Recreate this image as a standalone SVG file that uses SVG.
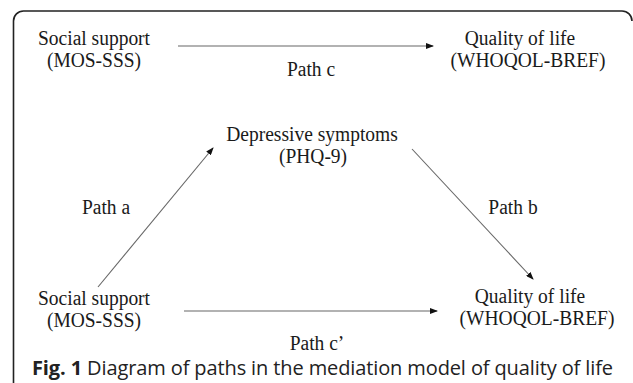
<svg xmlns="http://www.w3.org/2000/svg" width="633" height="383" viewBox="0 0 633 383">
<defs>
<marker id="ah" markerWidth="8" markerHeight="6" refX="7" refY="3" orient="auto" markerUnits="userSpaceOnUse">
<path d="M0,0 L8,3 L0,6 Z" fill="#111"/>
</marker>
<style>
.t{font-family:"Liberation Serif","Times New Roman",serif;font-size:19.5px;fill:#1a1a1a;text-anchor:middle}
.e{stroke:#666;stroke-width:1.1;fill:none;marker-end:url(#ah)}
.cap{font-family:"Open Sans","Noto Sans",sans-serif;font-size:20px;fill:#222}
</style>
</defs>
<rect width="633" height="383" fill="#fff"/>
<path d="M13.5,383 V21 A10,10 0 0 1 23.5,11 H622 A10,10 0 0 1 632,21" fill="none" stroke="#222" stroke-width="1.6"/>
<g id="connectors">
<line class="e" x1="178" y1="46" x2="433" y2="46"/>
<line class="e" x1="98" y1="287" x2="213" y2="148"/>
<line class="e" x1="412" y1="149" x2="533" y2="279"/>
<line class="e" x1="184" y1="311" x2="437" y2="311"/>
</g>
<g id="ss-top"><text class="t" transform="translate(94,45) scale(1,1.08)">Social support</text><text class="t" transform="translate(94,67) scale(1,1.08)">(MOS-SSS)</text></g>
<g id="qol-top"><text class="t" transform="translate(520,45) scale(1,1.08)">Quality of life</text><text class="t" transform="translate(528,67) scale(1,1.08)">(WHOQOL-BREF)</text></g>
<g id="dep"><text class="t" transform="translate(312,141) scale(1,1.08)">Depressive symptoms</text><text class="t" transform="translate(313,163) scale(1,1.08)">(PHQ-9)</text></g>
<g id="ss-bot"><text class="t" transform="translate(94,305) scale(1,1.08)">Social support</text><text class="t" transform="translate(94,327) scale(1,1.08)">(MOS-SSS)</text></g>
<g id="qol-bot"><text class="t" transform="translate(530,303) scale(1,1.08)">Quality of life</text><text class="t" transform="translate(537,325) scale(1,1.08)">(WHOQOL-BREF)</text></g>
<g id="labels">
<text class="t" transform="translate(311,76) scale(1,1.08)">Path c</text>
<text class="t" transform="translate(106,214) scale(1,1.08)">Path a</text>
<text class="t" transform="translate(513,214) scale(1,1.08)">Path b</text>
<text class="t" transform="translate(317,350) scale(1,1.08)">Path c’</text>
</g>
<text class="cap" x="32" y="375" textLength="581"><tspan font-weight="bold">Fig. 1</tspan> Diagram of paths in the mediation model of quality of life</text>
</svg>
